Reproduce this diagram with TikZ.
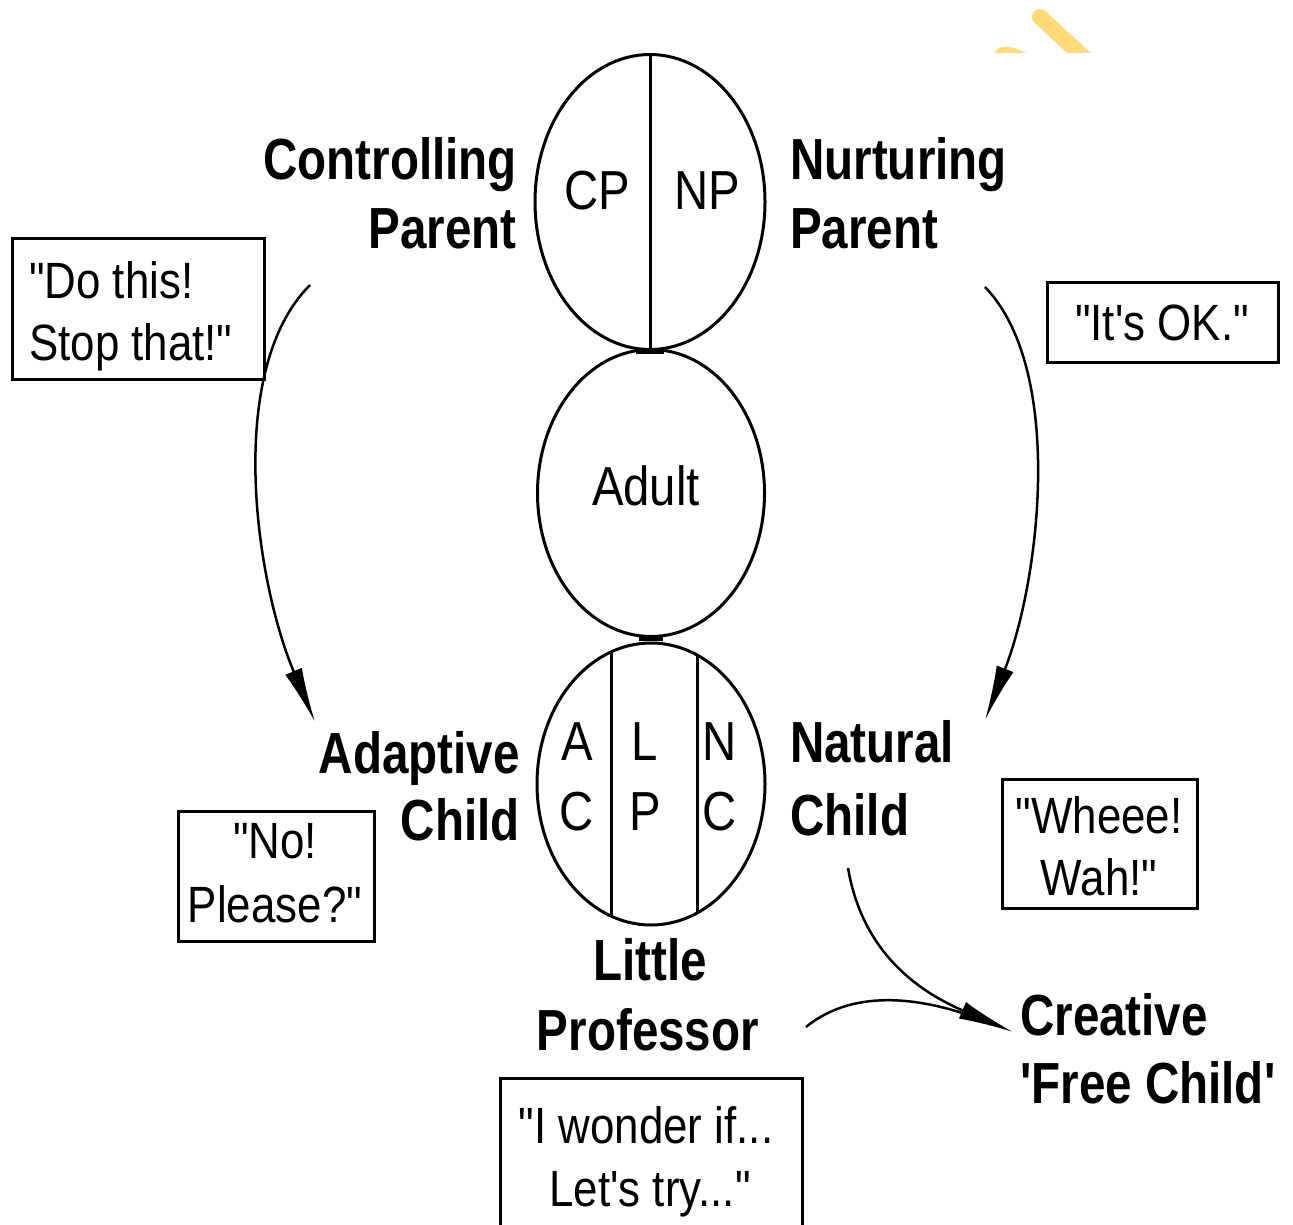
\documentclass[tikz,border=0pt]{standalone}
\usepackage{fontspec}
\newfontfamily\labfont{Liberation Sans}[FakeStretch=0.82]
\newfontfamily\txtfont{Liberation Sans}[FakeStretch=0.86]
\usetikzlibrary{shapes.geometric,arrows.meta,calc}
\definecolor{markyellow}{RGB}{255,218,120}
\begin{document}
\begin{tikzpicture}[x=1pt,y=-1pt,
  egobox/.style={ellipse,draw,line width=3pt,inner sep=0pt},
  role/.style={font=\labfont\bfseries\fontsize{58}{68}\selectfont,inner sep=0pt},
  tag/.style={font=\txtfont\fontsize{55}{64}\selectfont,inner sep=0pt},
  saying/.style={font=\txtfont\fontsize{51}{62}\selectfont,inner sep=0pt},
  qbox/.style={draw,line width=3pt,inner sep=0pt},
  flow/.style={line width=2.5pt,-{Latex[length=55pt,width=18pt]}},
  neck/.style={line width=6pt}
]
\useasboundingbox (0,0) rectangle (1293,1225);
\clip (0,0) rectangle (1293,1225);

% corner mark
\begin{scope}
  \clip (900,0) rectangle (1200,53);
  \draw[markyellow,line width=16pt,line cap=round] (1040,17) -- (1095,68);
  \fill[markyellow] (992,60) .. controls (994,46) and (1004,41) .. (1030,55) -- (1030,60) -- cycle;
\end{scope}

% ego states
\node[egobox,minimum width=230pt,minimum height=295pt] (parent) at (650,202) {};
\node[egobox,minimum width=227pt,minimum height=287pt] (adult) at (651,493) {};
\node[egobox,minimum width=228pt,minimum height=282pt] (child) at (651,784) {};

\draw[line width=3pt] (parent.north) -- (parent.south);
\begin{scope}
  \clip (child.center) ellipse [x radius=114, y radius=141];
  \draw[line width=3pt] ($(child.center)+(-40,-150)$) -- ($(child.center)+(-40,150)$);
  \draw[line width=3pt] ($(child.center)+(46,-150)$) -- ($(child.center)+(46,150)$);
\end{scope}
\draw[neck] ($(parent.south)+(-14,0)$) -- ($(parent.south)+(14,0)$);
\draw[neck] ($(adult.south)+(-12,0)$) -- ($(adult.south)+(12,0)$);

\node[tag,anchor=base] (cp) at (597,210) {CP};
\node[tag,anchor=base] (np) at (707,210) {NP};
\node[tag,anchor=base] (ad) at (646,505) {Adult};
\node[tag,anchor=base] (a1) at (577,760) {A};
\node[tag,anchor=base] (c1) at (577,830) {C};
\node[tag,anchor=base] (l1) at (645,760) {L};
\node[tag,anchor=base] (p1) at (645,830) {P};
\node[tag,anchor=base] (n1) at (720,760) {N};
\node[tag,anchor=base] (c2) at (720,830) {C};

% role labels
\node[role,anchor=base east] (cpa) at (517,180) {Controlling};
\node[role,anchor=base east] (cpb) at (517,248) {Parent};
\node[role,anchor=base west] (npa) at (790,180) {Nurturing};
\node[role,anchor=base west] (npb) at (790,248) {Parent};
\node[role,anchor=base east] (aca) at (520,773) {Adaptive};
\node[role,anchor=base east] (acb) at (520,840) {Child};
\node[role,anchor=base west] (nca) at (790,762) {Natural};
\node[role,anchor=base west] (ncb) at (790,835) {Child};
\node[role,anchor=base] (lpa) at (650,980) {Little};
\node[role,anchor=base] (lpb) at (648,1050) {Professor};
\node[role,anchor=base west] (fca) at (1020,1035) {Creative};
\node[role,anchor=base west] (fcb) at (1020,1103) {'Free Child'};

% sayings
\node[qbox,minimum width=252pt,minimum height=140pt] (b1) at (138,309) {};
\node[saying,anchor=base west] at (29,298) {"Do this!};
\node[saying,anchor=base west] at (29,360) {Stop that!"};
\node[qbox,minimum width=231pt,minimum height=80pt] (b2) at (1162.5,322) {};
\node[saying,anchor=base] at (1162,340) {"It's OK."};
\node[qbox,minimum width=196pt,minimum height=130pt] (b3) at (276,876) {};
\node[saying,anchor=base] at (275,858) {"No!};
\node[saying,anchor=base] at (275,922) {Please?"};
\node[qbox,minimum width=195pt,minimum height=129pt] (b4) at (1099.5,843.5) {};
\node[saying,anchor=base] at (1099,833) {"Wheee!};
\node[saying,anchor=base] at (1099,895) {Wah!"};
\node[qbox,minimum width=302pt,minimum height=200pt] (b5) at (651,1178) {};
\node[saying,anchor=base] at (646,1143) {"I wonder if...};
\node[saying,anchor=base] at (650,1206) {Let's try..."};

% transitions
\coordinate (s1) at (310,285);
\coordinate (t1) at (315,722);
\coordinate (s2) at (985,287);
\coordinate (t2) at (985,720);
\coordinate (s3) at (848,868);
\coordinate (s4) at (806,1027);
\coordinate (t3) at (1013,1032);
\coordinate (m3) at (985,1021);
\draw[flow] (s1) .. controls (225,370) and (255,580) .. (t1);
\draw[flow] (s2) .. controls (1065,370) and (1040,580) .. (t2);
\draw[line width=2.5pt] (s4) .. controls (845,995) and (905,990) .. (m3);
\draw[flow] (s3) .. controls (862,950) and (915,990) .. (t3);
\end{tikzpicture}
\end{document}
